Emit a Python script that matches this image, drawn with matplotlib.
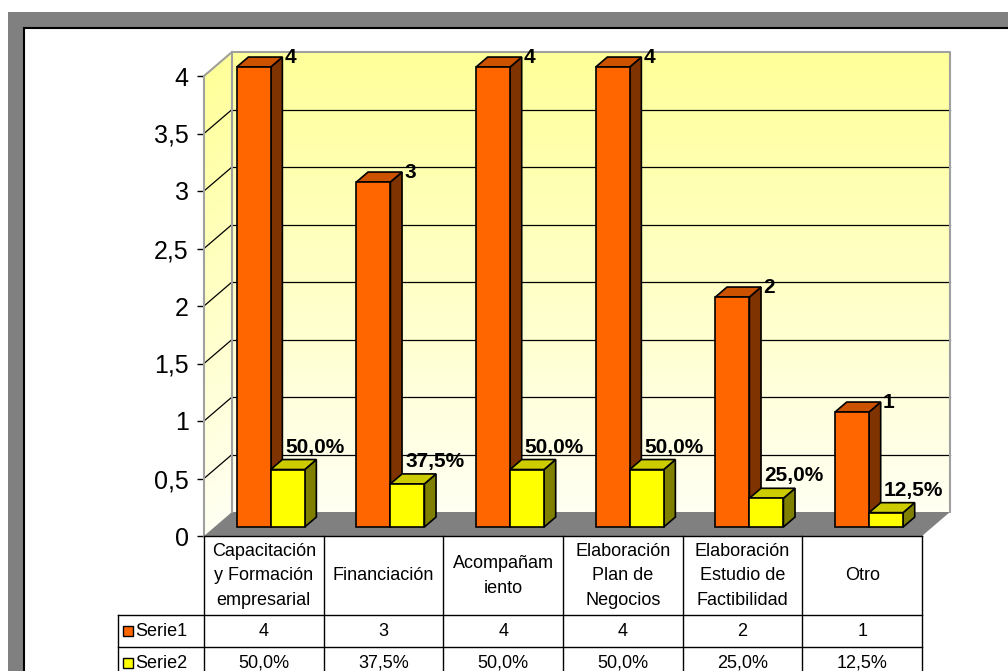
import numpy as np
import matplotlib
matplotlib.use('Agg')
import matplotlib.pyplot as plt
from matplotlib.patches import Polygon, Rectangle
from matplotlib.collections import PolyCollection

# data
categories = ['Capacitación\ny Formación\nempresarial', 'Financiación', 'Acompañam\niento',
              'Elaboración\nPlan de\nNegocios', 'Elaboración\nEstudio de\nFactibilidad', 'Otro']
serie1 = [4, 3, 4, 4, 2, 1]
serie2 = [0.5, 0.375, 0.5, 0.5, 0.25, 0.125]
serie_names = ['Serie1', 'Serie2']
yticks = [0, 0.5, 1, 1.5, 2, 2.5, 3, 3.5, 4]

plt.rcParams['font.family'] = ['Liberation Sans', 'DejaVu Sans']

W, H = 1008, 671
fig = plt.figure(figsize=(W / 100, H / 100), dpi=100)

# gray shadow frame + white chart area (behind the axes)
fig.patches.append(Rectangle((8 / W, -0.01), 1, (H - 12) / H + 0.01, transform=fig.transFigure,
                             facecolor='#808080', edgecolor='none', zorder=-2))
fig.patches.append(Rectangle((24 / W, -0.01), 1, (H - 28) / H + 0.01, transform=fig.transFigure,
                             facecolor='white', edgecolor='black', lw=1.5, zorder=-1))

ax = fig.add_axes([204 / W, (H - 536) / H, 718 / W, 460 / H])
ax.patch.set_visible(False)
n = len(categories)
ymax = yticks[-1]
px_x = 718 / n
px_y = 460 / ymax
DX = 28 / px_x     # wall depth in data units
DY = 24 / px_y

# walls with yellow gradient, drawn as thin strips
nstrip = 120
edges = np.linspace(0, ymax, nstrip + 1)
polys, cols = [], []
for k in range(nstrip):
    ya, yb = edges[k], edges[k + 1] + 0.005
    t = (k + 0.5) / nstrip
    c = (1, 1, 0.95 - 0.35 * t)
    polys.append([(DX, DY + ya), (n + DX, DY + ya), (n + DX, DY + yb), (DX, DY + yb)])
    polys.append([(0, ya), (DX, DY + ya), (DX, DY + yb), (0, yb)])
    cols += [c, c]
ax.add_collection(PolyCollection(polys, facecolors=cols, edgecolors='none', antialiased=False,
                                 zorder=0.5, clip_on=False))

# floor
ax.add_patch(Polygon([(0, 0), (n, 0), (n + DX, DY), (DX, DY)], closed=True,
                     facecolor='#808080', edgecolor='none', zorder=0.6, clip_on=False))

# gridlines on back and side wall
for v in yticks[1:-1]:
    ax.plot([DX, n + DX], [v + DY, v + DY], color='black', lw=0.9, zorder=0.7, clip_on=False)
    ax.plot([0, DX], [v, v + DY], color='black', lw=0.9, zorder=0.7, clip_on=False)

# wall edges
ax.plot([DX, DX, n + DX, n + DX], [DY, ymax + DY, ymax + DY, DY], color='#a0a0a0', lw=1.5,
        zorder=0.8, clip_on=False)
ax.plot([0, DX], [ymax, ymax + DY], color='#a0a0a0', lw=1.5, zorder=0.8, clip_on=False)

# 3D bars
f0, f1 = 0.375, 0.79
w = 34 / px_x
shift = -0.03
colors = [('#ff6600', '#cc5200', '#7f3300'), ('#ffff00', '#cccc00', '#808000')]


def bar3d(x0, x1, h, cols, z):
    front, top, side = cols
    a0, a1 = f0 * DX, f1 * DX
    b0, b1 = f0 * DY, f1 * DY
    kw = dict(closed=True, edgecolor='black', lw=1.2, zorder=z, joinstyle='miter', clip_on=False)
    ax.add_patch(Polygon([(x1 + a0, b0), (x1 + a1, b1), (x1 + a1, h + b1), (x1 + a0, h + b0)],
                         facecolor=side, **kw))
    ax.add_patch(Polygon([(x0 + a0, h + b0), (x1 + a0, h + b0), (x1 + a1, h + b1), (x0 + a1, h + b1)],
                         facecolor=top, **kw))
    ax.add_patch(Polygon([(x0 + a0, b0), (x1 + a0, b0), (x1 + a0, h + b0), (x0 + a0, h + b0)],
                         facecolor=front, **kw))
    return x1 + a1, h + b1


for i in range(n):
    c = i + 0.5 + shift
    cx, cy = bar3d(c - w, c, serie1[i], colors[0], 2 + 2 * i)
    ax.annotate(str(serie1[i]), (cx, cy), xytext=(1.5, 0), textcoords='offset points',
                ha='left', va='center', fontsize=15, fontweight='bold', zorder=20,
                annotation_clip=False)
    cx, cy = bar3d(c, c + w, serie2[i], colors[1], 3 + 2 * i)
    ax.annotate(f'{serie2[i] * 100:.1f}%'.replace('.', ','), (cx, cy), xytext=(-1, 9),
                textcoords='offset points', ha='center', va='center', fontsize=15,
                fontweight='bold', zorder=20, annotation_clip=False)

ax.set_xlim(0, n)
ax.set_ylim(0, ymax)
for s in ['top', 'right', 'bottom']:
    ax.spines[s].set_visible(False)
ax.spines['left'].set_color('#a0a0a0')
ax.spines['left'].set_linewidth(1.5)
ax.set_xticks([])
ax.set_yticks(yticks)
ax.set_yticklabels([f'{t:g}'.replace('.', ',') for t in yticks], fontsize=18)
ax.tick_params(axis='y', length=5, width=1, pad=6, color='black')

# data table under the axis
def py(y):
    return (536 - y) / px_y

xl = -86 / px_x
ybot = py(700)
lkw = dict(color='black', lw=1, clip_on=False, zorder=10)
ax.plot([0, n], [0, 0], **lkw)
for i in range(n + 1):
    ax.plot([i, i], [0, ybot], **lkw)
ax.plot([xl, xl], [py(615), ybot], **lkw)
for yy in [615, 647]:
    ax.plot([xl, n], [py(yy), py(yy)], **lkw)

fs = 13
for i, cat in enumerate(categories):
    ax.text(i + 0.5, py(576), cat, ha='center', va='center', fontsize=fs,
            linespacing=1.6, clip_on=False)
    ax.text(i + 0.5, py(631), str(serie1[i]), ha='center', va='center', fontsize=fs, clip_on=False)
    ax.text(i + 0.5, py(663), f'{serie2[i] * 100:.1f}%'.replace('.', ','), ha='center',
            va='center', fontsize=fs, clip_on=False)

for k, (name, yy) in enumerate(zip(serie_names, [631, 663])):
    ax.plot([-(204 - 128) / px_x], [py(yy)], marker='s', ms=6.5, mfc=colors[k][0],
            mec='black', mew=1, clip_on=False, zorder=11)
    ax.text(-(204 - 135) / px_x, py(yy), name, ha='left', va='center', fontsize=fs, clip_on=False)

fig.savefig('out.png', dpi=100)
